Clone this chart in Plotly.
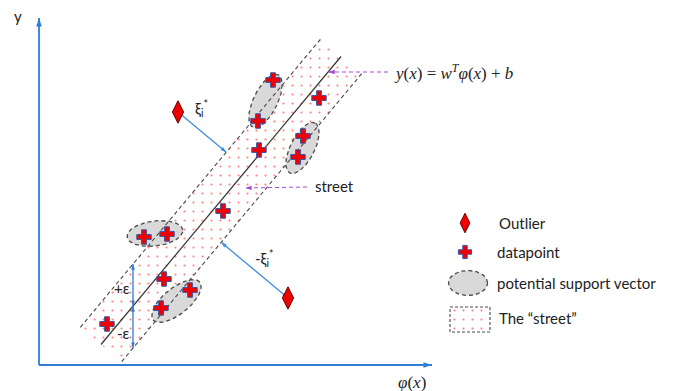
import numpy as np
import plotly.graph_objects as go

# ---- data (phi(x), y units) ----
point_phi = [234, 280, 219, 264, 220, 259, 184, 105, 128, 125, 151, 122, 68]
point_y = [285, 267, 244, 229, 215, 208, 154, 128, 131, 86, 75, 57, 41]
outlier_phi = [139, 249]
outlier_y = [253, 67]

# regression function y(x) = w*phi(x) + b, tube half-height eps
w = 1.2
b = -53.9
eps = 42
phi_start, phi_end = 62, 302

legend_labels = ["Outlier", "datapoint", "potential support vector", "The \u201cstreet\u201d"]

# ---- styling / geometry constants ----
FONT = "Lato"
BLUE = "#2E7CD6"
ARROW_BLUE = "#3D8EE0"
PURPLE = "#A64BD1"
DASH_GREY = "#4a4a4a"
RED = "#F00000"

# support-vector ellipses: (center phi, center y, semi-major, semi-minor, angle deg)
SV_ELLIPSES = [
    (226.5, 264, 29, 12, 64),
    (263.5, 217, 28, 12, 63),
    (116, 131.5, 28, 12.5, 7),
    (137.5, 64, 30, 13, 39),
]

fig = go.Figure()

# geometry of the street (rotated band around the regression line)
norm = np.hypot(1.0, w)
n_vec = np.array([-w, 1.0]) / norm          # unit normal (upper side)
half_w = eps / norm                          # perpendicular half width
c0 = np.array([phi_start, w * phi_start + b])
c1 = np.array([phi_end, w * phi_end + b])
up0, up1 = c0 + half_w * n_vec, c1 + half_w * n_vec
lo0, lo1 = c0 - half_w * n_vec, c1 - half_w * n_vec

dot_pattern = dict(shape=".", fgcolor="#FF0000", bgcolor="white", size=9, solidity=0.045)

# dotted street fill
poly = np.array([up0, up1, lo1, lo0, up0])
fig.add_trace(go.Scatter(x=poly[:, 0], y=poly[:, 1], mode="lines", fill="toself",
                         fillcolor="rgba(0,0,0,0)", fillpattern=dot_pattern,
                         line=dict(width=0), hoverinfo="skip"))


def ellipse(cx, cy, a, bb, ang, n=90):
    t = np.linspace(0, 2 * np.pi, n)
    th = np.deg2rad(ang)
    ex = a * np.cos(t)
    ey = bb * np.sin(t)
    return cx + ex * np.cos(th) - ey * np.sin(th), cy + ex * np.sin(th) + ey * np.cos(th)


for cx, cy, a, bb, ang in SV_ELLIPSES:
    ex, ey = ellipse(cx, cy, a, bb, ang)
    fig.add_trace(go.Scatter(x=ex, y=ey, mode="lines", fill="toself", fillcolor="#D9D9D9",
                             line=dict(color=DASH_GREY, width=1.3, dash="4px,3px"),
                             hoverinfo="skip"))

# street boundaries
for p0, p1 in [(up0, up1), (lo0, lo1)]:
    fig.add_trace(go.Scatter(x=[p0[0], p1[0]], y=[p0[1], p1[1]], mode="lines",
                             line=dict(color=DASH_GREY, width=1.1, dash="4px,3px"),
                             hoverinfo="skip"))

# regression line
fig.add_trace(go.Scatter(x=[c0[0], c1[0]], y=[c0[1], c1[1]], mode="lines",
                         line=dict(color="#333333", width=1.2), hoverinfo="skip"))

annotations = []


def arrow(x0, y0, x1, y1, color, both=False, width=1.2, head=7, dash="solid"):
    """Line from (x0,y0) to (x1,y1) with arrowhead marker(s); tip of head sits on the end."""
    fig.add_trace(go.Scatter(x=[x0, x1], y=[y0, y1], mode="lines",
                             line=dict(color=color, width=width, dash=dash), hoverinfo="skip"))
    ang = np.degrees(np.arctan2(x1 - x0, y1 - y0))
    hx, hy, ha = [x1], [y1], [ang]
    if both:
        hx.append(x0)
        hy.append(y0)
        ha.append(ang + 180)
    fig.add_trace(go.Scatter(x=hx, y=hy, mode="markers", hoverinfo="skip",
                             marker=dict(symbol="arrow", size=head, angle=ha, color=color,
                                         line=dict(width=0))))


def label(x, y, text, size=15, xanchor="left", family=FONT, color="#222222"):
    annotations.append(dict(x=x, y=y, xref="x", yref="y", text=text, showarrow=False,
                            xanchor=xanchor, yanchor="middle",
                            font=dict(family=family, size=size, color=color)))


# coordinate axes
arrow(0, 0, 0, 347, BLUE, width=1.8, head=9)
arrow(0, 0, 393, 0, BLUE, width=1.8, head=9)
label(-21, 349, "y", size=15, xanchor="center")
label(373, -17, "<i>\u03c6</i>(<i>x</i>)", size=17, xanchor="center", family="Liberation Serif")

# +eps / -eps markers
eps_phi = 94
yc = w * eps_phi + b
arrow(eps_phi, yc, eps_phi, yc + eps, BLUE, both=True, width=1.3, head=6)
arrow(eps_phi, yc, eps_phi, yc - eps, BLUE, both=True, width=1.3, head=6)
label(eps_phi - 1, yc + eps / 2 - 3, "+\u03b5", size=15, xanchor="right")
label(eps_phi - 1, yc - eps / 2 - 6, "-\u03b5", size=15, xanchor="right")

# slack distances from outliers to the street boundaries
d_vec = np.array([1.0, w]) / norm
for (ox, oy), base in zip(zip(outlier_phi, outlier_y), [up0, lo0]):
    o = np.array([ox, oy])
    foot = base + np.dot(o - base, d_vec) * d_vec
    arrow(foot[0], foot[1], ox, oy, ARROW_BLUE, both=True, width=1.3, head=6)
label(154, 257, "\u03be<sub>i</sub><sup>*</sup>", size=15)
label(214, 107, "-\u03be<sub>i</sub><sup>*</sup>", size=15)

# purple callouts
y_eq = 293
phi_eq = (y_eq - b) / w
arrow(349, y_eq, phi_eq, y_eq, PURPLE, width=1.0, head=7, dash="4px,3px")
label(353, y_eq, "<i>y</i>(<i>x</i>) = <i>w</i><sup><i>T</i></sup><i>\u03c6</i>(<i>x</i>) + <i>b</i>",
      size=17, family="Liberation Serif")

y_st = 178
arrow(268, y_st, 206, y_st - 1, PURPLE, width=1.0, head=7, dash="4px,3px")
label(274, y_st + 1, "street", size=15)

# outliers and data points
fig.add_trace(go.Scatter(x=outlier_phi, y=outlier_y, mode="markers",
                         marker=dict(symbol="diamond-tall", size=16, color=RED,
                                     line=dict(color="#6b0000", width=1)), hoverinfo="skip"))
fig.add_trace(go.Scatter(x=point_phi, y=point_y, mode="markers",
                         marker=dict(symbol="cross", size=12, color=RED,
                                     line=dict(color="#2F55A8", width=1)), hoverinfo="skip"))

# ---- legend (drawn as diagram items) ----
lg_x = 426
lg_text_x = 456
lg_y = [142, 113, 82, 47]
fig.add_trace(go.Scatter(x=[lg_x], y=[lg_y[0]], mode="markers",
                         marker=dict(symbol="diamond-tall", size=14, color=RED,
                                     line=dict(color="#6b0000", width=1)), hoverinfo="skip"))
fig.add_trace(go.Scatter(x=[lg_x], y=[lg_y[1]], mode="markers",
                         marker=dict(symbol="cross", size=11, color=RED,
                                     line=dict(color="#2F55A8", width=1)), hoverinfo="skip"))
ex, ey = ellipse(lg_x + 3, lg_y[2], 19.5, 12.5, 0)
fig.add_trace(go.Scatter(x=ex, y=ey, mode="lines", fill="toself", fillcolor="#D9D9D9",
                         line=dict(color=DASH_GREY, width=1.3, dash="4px,3px"), hoverinfo="skip"))
rx = [411, 451, 451, 411, 411]
ry = [lg_y[3] + 11, lg_y[3] + 11, lg_y[3] - 14, lg_y[3] - 14, lg_y[3] + 11]
fig.add_trace(go.Scatter(x=rx, y=ry, mode="lines", fill="toself", fillcolor="rgba(0,0,0,0)",
                         fillpattern=dot_pattern,
                         line=dict(color=DASH_GREY, width=1.1, dash="3px,2px"), hoverinfo="skip"))
for yy, txt, dx in zip(lg_y, legend_labels, [2, 0, 0, 2]):
    label(lg_text_x + dx, yy, txt, size=15)

fig.update_layout(
    width=689, height=391,
    margin=dict(l=0, r=0, t=0, b=0),
    paper_bgcolor="white", plot_bgcolor="white",
    showlegend=False,
    xaxis=dict(range=[-39, 650], visible=False, fixedrange=True),
    yaxis=dict(range=[-26, 365], visible=False, fixedrange=True),
    annotations=annotations,
)

fig.write_html("out.html")
